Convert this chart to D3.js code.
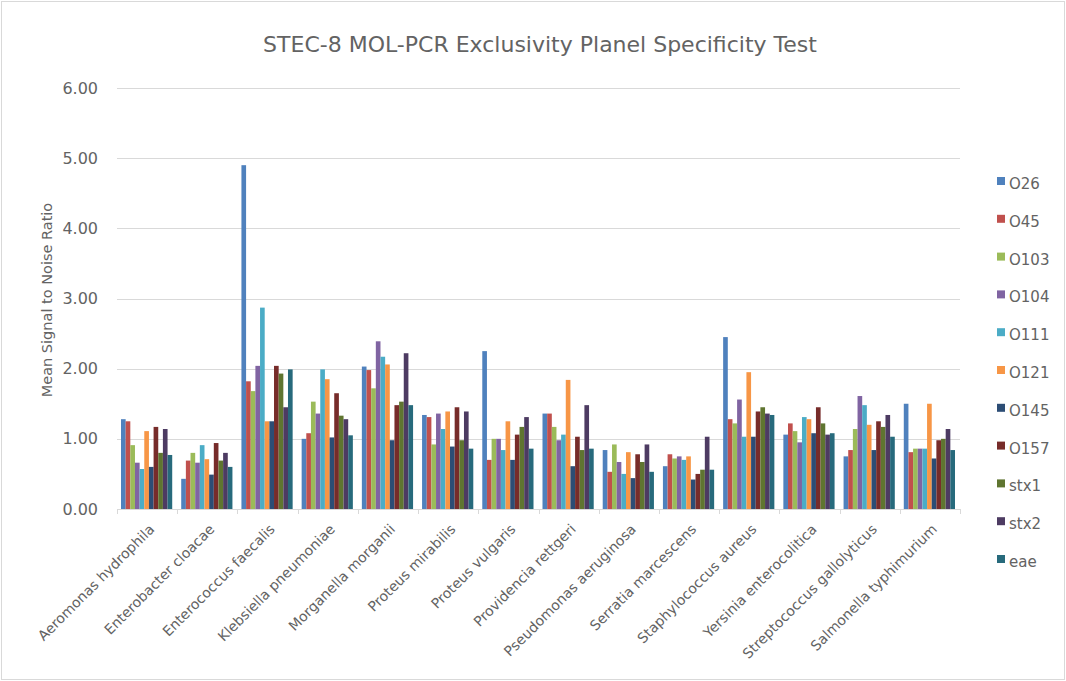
<!DOCTYPE html>
<meta charset="utf-8">
<style>
body { margin: 0; background: #fff; }
text { font-family: "DejaVu Sans", sans-serif; fill: #636363; }
.grid line { stroke: #d9d9d9; stroke-width: 1px; }
.axis--y path, .axis--y line { display: none; }
.axis--x path, .axis--x line { stroke: #d9d9d9; }
</style>
<svg width="1066" height="681"></svg>
<script src="https://d3js.org/d3.v7.min.js"></script>
<script>
var categories = ["Aeromonas hydrophila", "Enterobacter cloacae", "Enterococcus  faecalis", "Klebsiella pneumoniae",
  "Morganella morganii", "Proteus mirabilis", "Proteus vulgaris", "Providencia rettgeri",
  "Pseudomonas aeruginosa", "Serratia  marcescens", "Staphylococcus aureus", "Yersinia enterocolitica",
  "Streptococcus gallolyticus", "Salmonella typhimurium"];

var seriesNames = ["O26", "O45", "O103", "O104", "O111", "O121", "O145", "O157", "stx1", "stx2", "eae"];
var colors = ["#4f81bd", "#c0504d", "#9bbb59", "#8064a2", "#4bacc6", "#f79646", "#2c4d75", "#772c2a", "#5f7530", "#4d3b62", "#276a7c"];

// one value per category, in category order
var O26  = [1.28, 0.43, 4.90, 1.00, 2.03, 1.34, 2.25, 1.36, 0.84, 0.61, 2.45, 1.06, 0.75, 1.50];
var O45  = [1.25, 0.69, 1.82, 1.08, 1.98, 1.31, 0.70, 1.36, 0.53, 0.78, 1.28, 1.22, 0.84, 0.81];
var O103 = [0.91, 0.80, 1.68, 1.53, 1.72, 0.92, 1.00, 1.17, 0.92, 0.72, 1.22, 1.11, 1.14, 0.86];
var O104 = [0.66, 0.66, 2.04, 1.36, 2.39, 1.36, 1.00, 0.98, 0.67, 0.75, 1.56, 0.95, 1.61, 0.86];
var O111 = [0.57, 0.91, 2.87, 1.99, 2.17, 1.14, 0.84, 1.06, 0.50, 0.70, 1.03, 1.31, 1.48, 0.86];
var O121 = [1.11, 0.71, 1.25, 1.85, 2.06, 1.39, 1.25, 1.84, 0.81, 0.75, 1.95, 1.28, 1.20, 1.50];
var O145 = [0.60, 0.49, 1.25, 1.02, 0.98, 0.89, 0.70, 0.61, 0.44, 0.42, 1.03, 1.08, 0.84, 0.72];
var O157 = [1.17, 0.94, 2.04, 1.65, 1.48, 1.45, 1.06, 1.03, 0.78, 0.50, 1.39, 1.45, 1.25, 0.98];
var stx1 = [0.80, 0.69, 1.93, 1.33, 1.53, 0.98, 1.17, 0.84, 0.67, 0.56, 1.45, 1.22, 1.17, 1.00];
var stx2 = [1.14, 0.80, 1.45, 1.28, 2.22, 1.39, 1.31, 1.48, 0.92, 1.03, 1.36, 1.06, 1.34, 1.14];
var eae  = [0.77, 0.60, 1.99, 1.05, 1.48, 0.86, 0.86, 0.86, 0.53, 0.56, 1.34, 1.08, 1.03, 0.84];

var values = [O26, O45, O103, O104, O111, O121, O145, O157, stx1, stx2, eae];
var yTicks = [0, 1, 2, 3, 4, 5, 6];

var svg = d3.select("svg"),
    margin = {top: 88, right: 106, bottom: 172, left: 117},
    width = +svg.attr("width") - margin.left - margin.right,
    height = +svg.attr("height") - margin.top - margin.bottom;

svg.append("rect")
    .attr("x", 1.5).attr("y", 1.5)
    .attr("width", 1063).attr("height", 678)
    .attr("fill", "#fff").attr("stroke", "#d9d9d9");

var g = svg.append("g").attr("transform", "translate(" + margin.left + "," + margin.top + ")");

var x0 = d3.scaleBand().domain(categories).range([0, width]);
var x1 = d3.scaleBand().domain(seriesNames).range([4, x0.bandwidth() - 5]);
var y = d3.scaleLinear().domain([0, 6]).range([height, 0]);

g.append("g")
    .attr("class", "grid")
  .selectAll("line")
  .data(yTicks)
  .enter().append("line")
    .attr("x1", 0).attr("x2", width)
    .attr("y1", function(d) { return Math.round(y(d)) + 0.5; })
    .attr("y2", function(d) { return Math.round(y(d)) + 0.5; });

g.append("g")
    .attr("class", "axis axis--y")
    .call(d3.axisLeft(y).tickValues(yTicks).tickFormat(d3.format(".2f")).tickSize(0).tickPadding(19))
  .selectAll("text")
    .style("font-size", "16px");

var rows = categories.map(function(c, i) {
  return {name: c, vals: seriesNames.map(function(s, j) { return {s: s, v: values[j][i], c: colors[j]}; })};
});

g.append("g").selectAll("g")
  .data(rows)
  .enter().append("g")
    .attr("transform", function(d) { return "translate(" + x0(d.name) + ",0)"; })
  .selectAll("rect")
  .data(function(d) { return d.vals; })
  .enter().append("rect")
    .attr("x", function(d) { return x1(d.s); })
    .attr("width", x1.bandwidth())
    .attr("y", function(d) { return y(d.v); })
    .attr("height", function(d) { return height - y(d.v); })
    .attr("fill", function(d) { return d.c; });

var xAxis = g.append("g")
    .attr("class", "axis axis--x")
    .attr("transform", "translate(0," + height + ")")
    .call(d3.axisBottom(x0).tickSize(0));

xAxis.selectAll(".tick line").remove();
xAxis.selectAll(".sep")
  .data(d3.range(categories.length + 1))
  .enter().append("line")
    .attr("x1", function(i) { return Math.round(i * x0.step()) + 0.5; })
    .attr("x2", function(i) { return Math.round(i * x0.step()) + 0.5; })
    .attr("y1", 0).attr("y2", 5)
    .attr("stroke", "#d9d9d9");

xAxis.selectAll(".tick text")
    .style("font-size", "14px")
    .style("text-anchor", "end")
    .attr("dx", 0).attr("dy", 0)
    .attr("transform", "translate(6,19) rotate(-45)");

svg.append("text")
    .attr("x", 540).attr("y", 52)
    .attr("text-anchor", "middle")
    .style("font-size", "22px")
    .text("STEC-8 MOL-PCR Exclusivity Planel Specificity Test");

svg.append("text")
    .attr("transform", "translate(52,300) rotate(-90)")
    .attr("text-anchor", "middle")
    .style("font-size", "14.5px")
    .text("Mean Signal to Noise Ratio");

var legend = svg.append("g").attr("transform", "translate(997,184)");
var li = legend.selectAll("g")
  .data(seriesNames)
  .enter().append("g")
    .attr("transform", function(d, i) { return "translate(0," + (i * 37.8) + ")"; });
li.append("rect")
    .attr("x", 0).attr("y", -7).attr("width", 8).attr("height", 8)
    .attr("fill", function(d, i) { return colors[i]; });
li.append("text")
    .attr("x", 12).attr("y", 5)
    .style("font-size", "15px")
    .text(function(d) { return d; });
</script>
